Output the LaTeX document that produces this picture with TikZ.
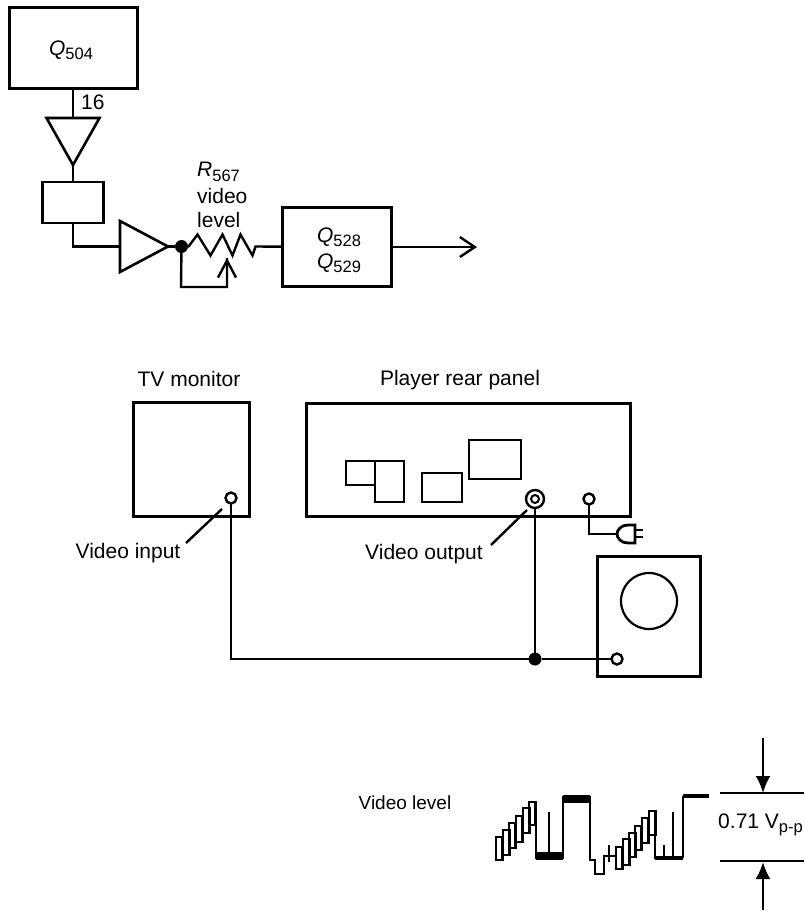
\documentclass[tikz,border=0pt]{standalone}
\usepackage{fontspec}
\setmainfont{Liberation Sans}
\usepackage{tikz}
\usetikzlibrary{shapes.geometric, arrows.meta, positioning}
\newcommand{\labelfont}{\fontsize{21}{24}\selectfont}
\newcommand{\smallfont}{\fontsize{19}{22}\selectfont}
\newcommand{\subs}[1]{\raisebox{-4.5pt}{\fontsize{16.5}{18}\selectfont #1}}

\begin{document}
\begin{tikzpicture}[x=1pt, y=-1pt, >=latex,
	wire/.style={line width=2.4pt},
	thin wire/.style={line width=2pt},
	block/.style={rectangle, draw, line width=3pt, inner sep=0pt, outer sep=0pt},
	small block/.style={rectangle, draw, line width=2pt, inner sep=0pt, outer sep=0pt},
	amp/.style={isosceles triangle, isosceles triangle stretches, draw, line width=2.6pt, inner sep=0pt, outer sep=0pt},
	jack/.style={circle, draw, fill=white, line width=2.4pt, minimum size=11pt, inner sep=0pt, outer sep=0pt},
	joint/.style={circle, fill=black, minimum size=13pt, inner sep=0pt, outer sep=0pt},
	txt/.style={inner sep=0pt, font=\labelfont, align=center},
	open tip/.style={-{Straight Barb[length=15pt, width=20pt, line width=2.4pt]}, wire},
	dim tip/.style={-{Latex[length=17pt, width=15pt]}, wire}
]
	\useasboundingbox (0,0) rectangle (804,913);

	% Video path nodes
	\node[block, minimum width=128pt, minimum height=81pt] (q504) at (73,47.5) {};
	\node[txt] at (71,50) {\textit{Q}\subs{504}};
	\node[txt, right=8pt of q504.south, yshift=-14pt, anchor=west] (pin) {16};
	\node[amp, shape border rotate=270, minimum width=53pt, minimum height=47pt, below=30pt of q504] (buf) {};
	\node[block, line width=2.6pt, minimum width=61pt, minimum height=41pt, below=17pt of buf] (filter) {};
	\node[amp, minimum width=51pt, minimum height=48pt, anchor=lower side] (drv) at (120,246.5) {};
	\node[joint, right=7pt of drv.apex] (tap) {};
	\node[block, minimum width=109pt, minimum height=79pt] (q528) at (336.5,247) {};
	\node[txt] at (339,250) {\textit{Q}\subs{528}\\[2pt]\textit{Q}\subs{529}};
	\node[txt, align=left, anchor=north west] (pot) at (197,162) {\textit{R}\subs{567}\\[3pt]video\\level};
	\coordinate (out) at (477,247);
	\coordinate (wiper) at (227,258);
	\coordinate (loop) at (181,287);

	% Video path connectors
	\draw[wire] (q504) -- (buf.lower side);
	\draw[wire] (buf.apex) -- (filter);
	\draw[wire] (filter.south) |- (drv.lower side);
	\draw[wire] (drv.apex) -- (tap);
	\draw[wire] (tap) -- ++(7,0) -- ++(9,-12) -- ++(13,21) -- ++(12,-21) -- ++(10,21) -- ++(8,-21) -- ++(12,21) -- ++(3,-9) -- (q528);
	\draw[open tip] (q528) -- (out);
	\draw[wire] (tap) -- (loop) -| (wiper);
	\draw[wire, -{Straight Barb[length=17pt, width=18pt, line width=2.4pt]}] (227,280) -- (wiper);

	% Test setup nodes
	\node[block, minimum width=116pt, minimum height=114pt] (tv) at (191,459) {};
	\node[txt] (tvname) at (189,379) {TV monitor};
	\node[block, minimum width=324pt, minimum height=113pt] (panel) at (468,459.5) {};
	\node[txt] (panelname) at (460,380) {Player rear panel};
	\node[small block, minimum width=29pt, minimum height=24pt] (jacks) at (360.5,473) {};
	\node[small block, minimum width=29pt, minimum height=41pt, right=0pt of jacks.north east, anchor=north west] (tuner) {};
	\node[small block, minimum width=40pt, minimum height=29pt] (aux) at (442,487.5) {};
	\node[small block, minimum width=52pt, minimum height=39pt] (disp) at (495,459.5) {};
	\node[jack] (vin) at (231,498) {};
	\node[circle, draw, line width=2.4pt, minimum size=18pt, inner sep=0pt] (vout) at (535,499) {};
	\node[jack, minimum size=8pt, line width=2pt] (voutin) at (535,499) {};
	\node[jack] (pwr) at (589,499) {};
	\node[block, minimum width=103pt, minimum height=120pt] (scope) at (649,616) {};
	\node[circle, draw, line width=2.2pt, minimum size=56pt, inner sep=0pt] (crt) at (649,601) {};
	\node[jack] (scopein) at (617,659) {};
	\node[joint] (tee) at (535,659) {};
	\node[txt] (vinname) at (128,553) {Video input};
	\node[txt] (voutname) at (424,554) {Video output};
	\coordinate (plug) at (617,534);
	\coordinate (vintip) at (222,509);
	\coordinate (vouttip) at (527,510);
	\coordinate (vinfoot) at (186,543);
	\coordinate (voutfoot) at (491,545);

	% Test setup connectors
	\draw[wire] (vin) |- (tee);
	\draw[wire] (vout) -- (tee);
	\draw[wire] (tee) -- (scopein);
	\draw[wire] (pwr) |- (plug);
	\draw[wire] (vinfoot) -- (vintip);
	\draw[wire] (voutfoot) -- (vouttip);
	\draw[line width=2.8pt, fill=white] (635,525) -- (628,525) .. controls (621,525) and (617,530) .. (617,534) .. controls (617,538) and (621,543) .. (628,543) -- (635,543) -- cycle;
	\draw[line width=2.8pt] (635,530) -- (643,530) (635,537) -- (643,537);

	% Waveform
	\node[txt, font=\smallfont] (levelname) at (405,803) {Video level};
	\foreach \x/\t/\b in {496/837/860, 503/830/855, 509/823/848, 516/816/842, 523/808/833, 529/802/825,
		616/847/869, 623/839/865, 629/833/857, 635/826/850, 642/818/843, 649/811/835}
		\draw[thin wire, line width=2.4pt] (\x,\t) rectangle (\x+6.5,\b);
	\draw[wire] (536,802) -- (536,859) (563,859) -- (563,796) (590,796) -- (590,860) -- (595,860) -- (595,874) -- (604,874) -- (604,856) -- (616,856);
	\draw[thin wire] (549,812) -- (549,855) (609,845) -- (609,862);
	\draw[line width=8pt] (536,856) -- (563,856) (563,798.5) -- (590,798.5);
	\draw[wire] (655,811) -- (655,859);
	\draw[line width=4.5pt] (655,858) -- (683,858) (683,796) -- (709,796);
	\draw[wire] (683,858) -- (683,796);
	\draw[thin wire] (664,845) -- (664,858) (673,812) -- (673,858);

	% Level markers
	\node[txt, anchor=east] (vpp) at (803,825) {0.71 V\subs{p-p}};
	\coordinate (topleft) at (720,793);
	\coordinate (topright) at (804,793);
	\coordinate (botleft) at (720,861);
	\coordinate (botright) at (804,861);
	\coordinate (topstart) at (763,738);
	\coordinate (toptip) at (763,793);
	\coordinate (botstart) at (763,910);
	\coordinate (bottip) at (763,862);
	\draw[wire] (topleft) -- (topright);
	\draw[wire] (botleft) -- (botright);
	\draw[dim tip] (topstart) -- (toptip);
	\draw[dim tip] (botstart) -- (bottip);
\end{tikzpicture}
\end{document}
